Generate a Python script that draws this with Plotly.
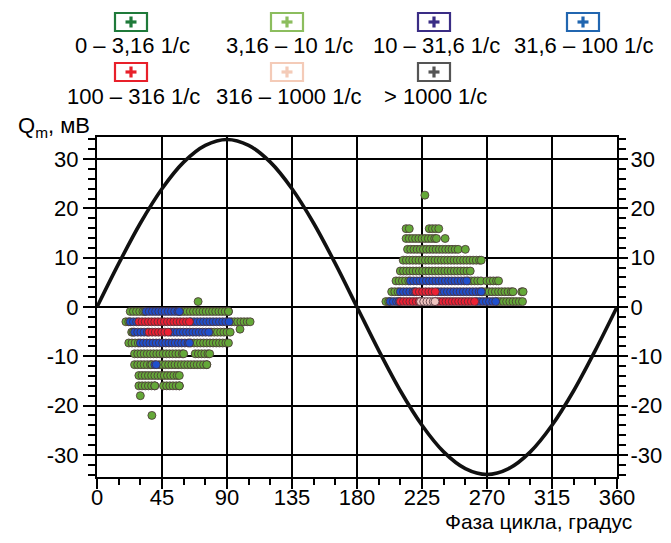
import numpy as np
import plotly.graph_objects as go

# ---------------- data ----------------
category_labels = ["0 – 3,16 1/c", "3,16 – 10 1/c", "10 – 31,6 1/c", "31,6 – 100 1/c",
                   "100 – 316 1/c", "316 – 1000 1/c", "> 1000 1/c"]

# reference voltage curve (every 15 degrees)
sine_phase = [0, 15, 30, 45, 60, 75, 90, 105, 120, 135, 150, 165, 180,
              195, 210, 225, 240, 255, 270, 285, 300, 315, 330, 345, 360]
sine_q = [0, 8.8, 17.0, 24.0, 29.4, 32.8, 34.0, 32.8, 29.4, 24.0, 17.0, 8.8, 0,
          -8.8, -17.0, -24.0, -29.4, -32.8, -34.0, -32.8, -29.4, -24.0, -17.0, -8.8, 0]

# pulse rows: Q level (mV) and runs of phase (start, end, category index)
row_q = [1.1, -0.9, -3.0, -4.5, -5.1, -7.3, -9.5, -11.7, -13.9, -16.0, -18.0, -22.0,
         22.7, 15.9, 13.9, 11.7, 9.5, 7.3, 5.3, 3.1, 1.1]
row_runs = [
    [(70, 70, 1)],
    [(23, 33, 1), (34, 57, 3), (58, 91, 1)],
    [(20, 22, 1), (23, 28, 3), (29, 64, 4), (65, 92, 3), (93, 106, 1)],
    [(99, 99, 1)],
    [(24, 25, 1), (26, 35, 3), (36, 50, 4), (51, 78, 3), (79, 93, 1)],
    [(22, 29, 1), (30, 64, 3), (65, 91, 1)],
    [(26, 60, 1), (68, 78, 1)],
    [(26, 38, 1), (40, 41, 3), (43, 76, 1)],
    [(29, 57, 1)],
    [(29, 40, 1), (46, 57, 1)],
    [(30, 30, 1)],
    [(38, 38, 1)],
    [(227, 227, 1)],
    [(214, 217, 1), (230, 237, 1)],
    [(214, 235, 1), (241, 241, 1)],
    [(215, 250, 1), (255, 255, 1)],
    [(212, 266, 1)],
    [(210, 259, 1)],
    [(207, 216, 1), (217, 256, 3), (257, 266, 1), (270, 278, 1)],
    [(204, 209, 1), (210, 220, 3), (221, 235, 4), (236, 266, 3), (267, 288, 1), (294, 295, 1)],
    [(200, 202, 1), (203, 209, 3), (210, 223, 4), (224, 234, 5), (235, 262, 4), (263, 276, 3), (277, 295, 1)],
]
PHASE_STEP = 2.2  # spacing of the measurement grid along phase

y_ticks = [-30, -20, -10, 0, 10, 20, 30]
y_tick_text = ["-30", "-20", "-10", "0", "10", "20", "30"]
x_ticks = [0, 45, 90, 135, 180, 225, 270, 315, 360]

# ---------------- styles ----------------
legend_colors = ["#1f7a3a", "#8cbd5e", "#3a2d85", "#2166b0", "#e8202a", "#f4cbb8", "#555555"]
point_colors = ["#1f7a3a", "#64a838", "#3a2d85", "#1f4fcc", "#ec2033", "#f0c4c0", "#555555"]
FONT = "Liberation Sans, Arial, Helvetica, sans-serif"
FS = 22

# page has an 8px body margin; work in screen pixels
OFF = 8
SW, SH = 671, 543
W, H = SW - 2 * OFF, SH - 2 * OFF
PL, PR, PT, PB = 97, 617, 137, 477   # plot area in screen pixels


def px2paper(px, py):
    return (px - PL) / (PR - PL), (PB - py) / (PB - PT)


fig = go.Figure()

fig.add_trace(go.Scatter(x=sine_phase, y=sine_q, mode="lines", line_shape="spline",
                         line=dict(color="#111111", width=3.6), showlegend=False,
                         hoverinfo="skip"))

# expand rows into points per category
pts = {c: ([], []) for c in range(7)}
for q, runs in zip(row_q, row_runs):
    for s, e, c in runs:
        for ph in np.arange(s, e + 0.01, PHASE_STEP):
            pts[c][0].append(ph)
            pts[c][1].append(q)
        if (e - s) % PHASE_STEP > 0.8:
            pts[c][0].append(e)
            pts[c][1].append(q)

for c in range(7):
    xs, ys = pts[c]
    if not xs:
        continue
    fig.add_trace(go.Scatter(x=xs, y=ys, mode="markers", name=category_labels[c],
                             marker=dict(symbol="circle", size=8, color=point_colors[c],
                                         line=dict(color="#4a3038", width=0.8)),
                             showlegend=False))

# invisible trace for right axis
fig.add_trace(go.Scatter(x=[0], y=[0], yaxis="y2", mode="markers",
                         marker=dict(opacity=0), showlegend=False, hoverinfo="skip"))

axis_common = dict(showline=True, linecolor="black", linewidth=2, automargin=False,
                   tickfont=dict(family=FONT, size=FS, color="black"),
                   ticks="outside", tickcolor="black", tickwidth=2, zeroline=False)
y_minor = dict(dtick=2, tick0=0, ticks="outside", ticklen=7, tickcolor="black",
               tickwidth=2, showgrid=False)

fig.update_layout(
    width=W, height=H,
    margin=dict(l=PL - OFF, r=(OFF + W) - PR, t=PT - OFF, b=(OFF + H) - PB, pad=0,
                autoexpand=False),
    paper_bgcolor="white", plot_bgcolor="white",
    showlegend=False,
    font=dict(family=FONT, size=FS, color="black"),
    xaxis=dict(range=[0, 360], tickvals=x_ticks, ticklen=10, ticklabelstandoff=-10,
               showgrid=True, gridcolor="black", gridwidth=1.8, mirror=True,
               minor=dict(dtick=15, tick0=0, ticks="outside", ticklen=6, tickcolor="black",
                          tickwidth=2, showgrid=False),
               **axis_common),
    yaxis=dict(range=[-34.5, 34.5], tickvals=y_ticks, ticktext=y_tick_text, ticklen=12,
               showgrid=True, gridcolor="black", gridwidth=1.8, mirror=True,
               minor=y_minor, **axis_common),
    yaxis2=dict(range=[-34.5, 34.5], tickvals=y_ticks, ticktext=y_tick_text, ticklen=9,
                ticklabelstandoff=-2,
                overlaying="y", side="right", showgrid=False,
                minor=y_minor, **axis_common),
)

# legend drawn with shapes + annotations
box_centers = [(131, 22), (287, 22), (434, 22), (583, 22), (131, 72), (287, 72), (434, 72)]
text_centers = [(132, 45), (289, 45), (436, 45), (583, 45), (133, 96), (289, 96), (435, 96)]
BW, BH = 32, 18
for i, lab in enumerate(category_labels):
    cx, cy = box_centers[i]
    x0, y0 = px2paper(cx - BW / 2, cy + BH / 2)
    x1, y1 = px2paper(cx + BW / 2, cy - BH / 2)
    fig.add_shape(type="rect", xref="paper", yref="paper", x0=x0, y0=y0, x1=x1, y1=y1,
                  line=dict(color=legend_colors[i], width=2.2), fillcolor="white")
    a0, b0 = px2paper(cx - 5.5, cy + 1.6)
    a1, b1 = px2paper(cx + 5.5, cy - 1.6)
    fig.add_shape(type="rect", xref="paper", yref="paper", x0=a0, y0=b0, x1=a1, y1=b1,
                  line=dict(width=0), fillcolor=legend_colors[i])
    a0, b0 = px2paper(cx - 1.6, cy + 5.5)
    a1, b1 = px2paper(cx + 1.6, cy - 5.5)
    fig.add_shape(type="rect", xref="paper", yref="paper", x0=a0, y0=b0, x1=a1, y1=b1,
                  line=dict(width=0), fillcolor=legend_colors[i])
    tx, ty = px2paper(*text_centers[i])
    fig.add_annotation(xref="paper", yref="paper", x=tx, y=ty, text=lab, showarrow=False,
                       xanchor="center", yanchor="middle",
                       font=dict(family=FONT, size=FS, color="black"))

ax, ay = px2paper(16, 127)
fig.add_annotation(xref="paper", yref="paper", x=ax, y=ay, text="Q<sub>m</sub>, мВ",
                   showarrow=False, xanchor="left", yanchor="middle",
                   font=dict(family=FONT, size=FS, color="black"))
ax, ay = px2paper(634, 521)
fig.add_annotation(xref="paper", yref="paper", x=ax, y=ay, text="Фаза цикла, градус",
                   showarrow=False, xanchor="right", yanchor="middle",
                   font=dict(family=FONT, size=21, color="black"))

fig.write_html("out.html")
